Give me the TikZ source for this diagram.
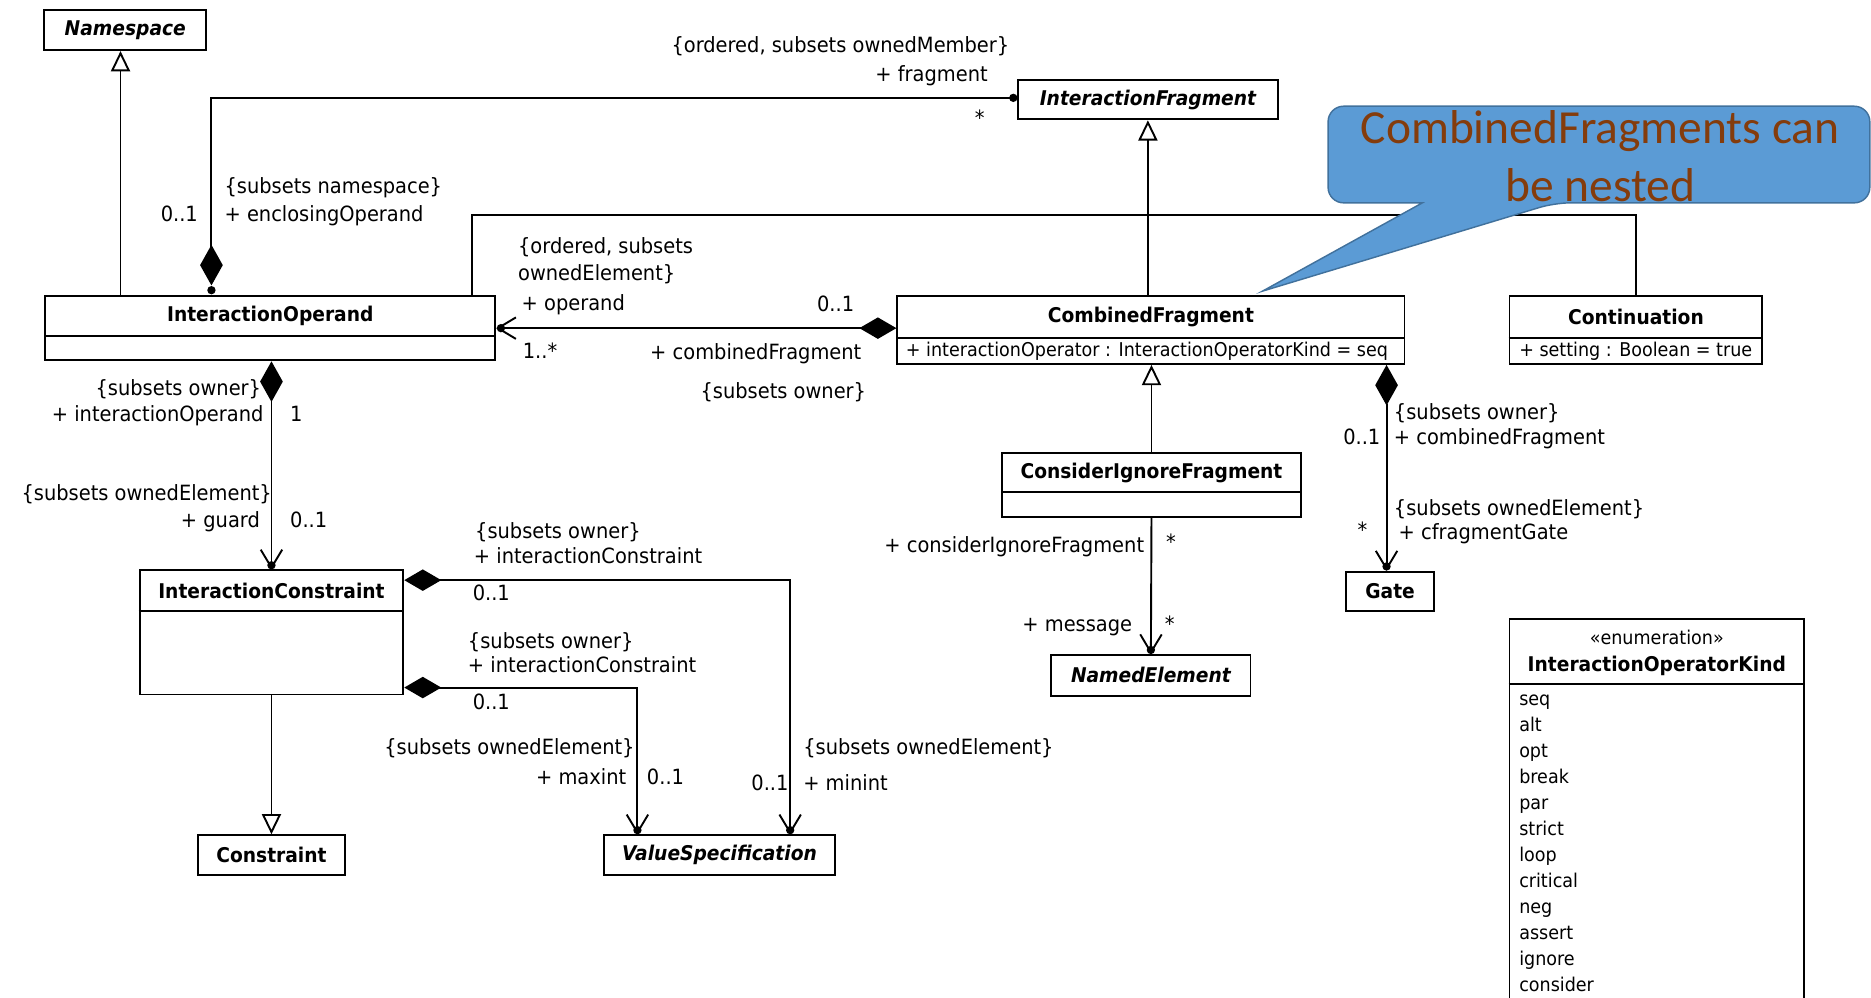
\documentclass[tikz,border=0pt]{standalone}
\usepackage{fontspec}
\setmainfont{DejaVu Sans}[FakeStretch=0.925, BoldFeatures={FakeStretch=0.92}, BoldItalicFeatures={FakeStretch=0.92}]
\newfontfamily\notefont{Carlito}
\usetikzlibrary{arrows.meta,calc}
\definecolor{noteblue}{HTML}{5B9BD5}
\definecolor{noteedge}{HTML}{41719C}
\definecolor{notetext}{HTML}{843C0C}

\begin{document}
\begin{tikzpicture}[x=1pt,y=-1pt,
  cls/.style={draw, line width=1.6pt, fill=white, rectangle, inner sep=0pt},
  cname/.style={inner sep=0pt, font=\fontsize{17}{20}\selectfont\bfseries},
  aname/.style={inner sep=0pt, font=\fontsize{17}{20}\selectfont\bfseries\itshape},
  lbl/.style={inner sep=0pt, font=\fontsize{17.6}{20}\selectfont, text height=12.5pt, text depth=4pt},
  attr/.style={inner sep=0pt, font=\fontsize{15.9}{20}\selectfont, text height=11.5pt, text depth=3.5pt},
  line/.style={line width=1.6pt},
  gen/.style={line, -{Triangle[open, length=17pt, width=16pt, fill=white]}},
  comp/.style={line, {Diamond[length=34pt, width=19pt]}-},
  compnav/.style={line, {Diamond[length=34pt, width=19pt]}-{Straight Barb[length=15pt, width=18pt]}},
  hcompnav/.style={line, {Diamond[length=31pt, width=18pt]}-{Straight Barb[length=15pt, width=18pt]}},
  nav/.style={line, -{Straight Barb[length=15pt, width=18pt]}},
  owndot/.style={fill=black}
]
\useasboundingbox (0,0) rectangle (1568,836);
\clip (0,0) rectangle (1568,836);

% ---------- classes ----------
\node[cls, minimum width=136pt, minimum height=34pt] (ns) at (105,25) {};
\node[aname] (ns-t) at (ns.center) {Namespace};

\node[cls, minimum width=218pt, minimum height=33pt] (ifr) at (962,83.5) {};
\node[aname] (ifr-t) at (ifr.center) {InteractionFragment};

\node[cls, minimum width=377pt, minimum height=54pt] (io) at (226.5,275) {};
\node[cname] (io-t) at (226.5,265) {InteractionOperand};
\draw[line] (io.west |- 0,281.5) -- (io.east |- 0,281.5);

\node[cls, minimum width=425pt, minimum height=57pt] (cf) at (964.5,276.5) {};
\node[cname] (cf-t) at (964.5,265.5) {CombinedFragment};
\draw[line] (cf.west |- 0,283) -- (cf.east |- 0,283);
\node[attr, anchor=west] (cf-a) at (759,294.5) {+ interactionOperator : InteractionOperatorKind = seq};

\node[cls, minimum width=212pt, minimum height=57pt] (cont) at (1371,276.5) {};
\node[cname] (cont-t) at (1371,265.5) {Continuation};
\draw[line] (cont.west |- 0,283) -- (cont.east |- 0,283);
\node[attr, anchor=west] (cont-a) at (1273,294.5) {+ setting : Boolean = true};

\node[cls, minimum width=221pt, minimum height=104pt] (ic) at (227.5,530) {};
\node[cname] (ic-t) at (227.5,495.5) {InteractionConstraint};
\draw[line] (ic.west |- 0,512) -- (ic.east |- 0,512);

\node[cls, minimum width=123pt, minimum height=33pt] (con) at (227.5,716.5) {};
\node[cname] (con-t) at (con.center) {Constraint};

\node[cls, minimum width=194pt, minimum height=33pt] (vs) at (603,716.5) {};
\node[aname] (vs-t) at (vs.center) {ValueSpecification};

\node[cls, minimum width=250pt, minimum height=53pt] (cif) at (965,406.5) {};
\node[cname] (cif-t) at (965,396) {ConsiderIgnoreFragment};
\draw[line] (cif.west |- 0,412.5) -- (cif.east |- 0,412.5);

\node[cls, minimum width=167pt, minimum height=34pt] (ne) at (964.5,566) {};
\node[aname] (ne-t) at (ne.center) {NamedElement};

\node[cls, minimum width=74pt, minimum height=33pt] (gate) at (1165,495.5) {};
\node[cname] (gate-t) at (gate.center) {Gate};

% enumeration
\node[cls, minimum width=247pt, minimum height=341pt] (iok) at (1388.5,689.5) {};
\node[attr] (iok-s) at (1388.5,536) {«enumeration»};
\node[cname] (iok-t) at (1388.5,558) {InteractionOperatorKind};
\draw[line] (iok.west |- 0,573.5) -- (iok.east |- 0,573.5);
\foreach \lit [count=\k from 0] in {seq,alt,opt,break,par,strict,loop,critical,neg,assert,ignore,consider}
  \node[attr, anchor=west] (lit-\k) at (1273,587+21.8*\k) {\lit};

% ---------- generalizations ----------
\coordinate (nsx) at ($(ns.south)+(-4,0)$);
\draw[gen] (nsx |- io.north) -- (nsx);
\coordinate (jn) at (962,180);
\draw[line] ($(io.north east)+(-20,0)$) |- (jn) -| (cont.north);
\draw[gen] (cf.north -| ifr.south) -- (ifr.south);
\draw[gen] (ic.south) -- (con.north);
\draw[gen] (cif.north) -- (cif.north |- cf.south);

% ---------- associations ----------
% enclosingOperand / fragment
\draw[comp, shorten <=8pt] ($(io.north west)+(140,0)$) |- ($(ifr.west)+(0,-1.5)$);
\fill[owndot] ($(io.north west)+(140,-4)$) circle (3.5pt);
\fill[owndot] ($(ifr.west)+(-3,-1.5)$) circle (3.5pt);
\node[lbl, anchor=east] (l1) at (846,40) {\{ordered, subsets ownedMember\}};
\node[lbl, anchor=east] (l2) at (828,64) {+ fragment};
\node[lbl, anchor=center] (l3) at (821,101) {*};
\node[lbl, anchor=west] (l4) at (188,158) {\{subsets namespace\}};
\node[lbl, anchor=west] (l5) at (188,181) {+ enclosingOperand};
\node[lbl, anchor=east] (l6) at (166,181) {0..1};

% operand / combinedFragment
\draw[hcompnav] (cf.west |- io.east) -- (io.east);
\fill[owndot] ($(io.east)+(4,0)$) circle (3.5pt);
\node[lbl, anchor=west] (l7) at (434,208) {\{ordered, subsets};
\node[lbl, anchor=west] (l8) at (434,231) {ownedElement\}};
\node[lbl, anchor=west] (l9) at (437,256) {+ operand};
\node[lbl, anchor=west] (l10) at (438,296) {1..*};
\node[lbl, anchor=east] (l11) at (716,257) {0..1};
\node[lbl, anchor=east] (l12) at (722,297) {+ combinedFragment};
\node[lbl, anchor=east] (l13) at (726,330) {\{subsets owner\}};

% guard
\draw[compnav] (ic.north |- io.south) -- (ic.north);
\fill[owndot] ($(ic.north)+(0,-3.5)$) circle (3.5pt);
\node[lbl, anchor=east] (l14) at (219,327) {\{subsets owner\}};
\node[lbl, anchor=east] (l15) at (221,349) {+ interactionOperand};
\node[lbl, anchor=west] (l16) at (243,349) {1};
\node[lbl, anchor=east] (l17) at (228,415) {\{subsets ownedElement\}};
\node[lbl, anchor=east] (l18) at (218,438) {+ guard};
\node[lbl, anchor=west] (l19) at (243,438) {0..1};

% minint
\draw[hcompnav] ($(ic.north east)+(0,9)$) -| ($(vs.north west)+(157,0)$);
\fill[owndot] ($(vs.north west)+(157,-3.5)$) circle (3.5pt);
\node[lbl, anchor=west] (l20) at (398,447) {\{subsets owner\}};
\node[lbl, anchor=west] (l21) at (397,468) {+ interactionConstraint};
\node[lbl, anchor=west] (l22) at (396,499) {0..1};
\node[lbl, anchor=west] (l23) at (673,628) {\{subsets ownedElement\}};
\node[lbl, anchor=east] (l24) at (661,658) {0..1};
\node[lbl, anchor=west] (l25) at (673,658) {+ minint};

% maxint
\draw[hcompnav] ($(ic.north east)+(0,99)$) -| ($(vs.north west)+(29,0)$);
\fill[owndot] ($(vs.north west)+(29,-3.5)$) circle (3.5pt);
\node[lbl, anchor=west] (l26) at (392,539) {\{subsets owner\}};
\node[lbl, anchor=west] (l27) at (392,559) {+ interactionConstraint};
\node[lbl, anchor=west] (l28) at (396,590) {0..1};
\node[lbl, anchor=east] (l29) at (532,628) {\{subsets ownedElement\}};
\node[lbl, anchor=east] (l30) at (525,653) {+ maxint};
\node[lbl, anchor=west] (l31) at (542,653) {0..1};

% message
\draw[nav] (cif.south) -- (ne.north);
\fill[owndot] ($(ne.north)+(0,-3.5)$) circle (3.5pt);
\node[lbl, anchor=east] (l32) at (959,459) {+ considerIgnoreFragment};
\node[lbl, anchor=west] (l33) at (977,456) {*};
\node[lbl, anchor=east] (l34) at (949,525) {+ message};
\node[lbl, anchor=west] (l35) at (976,525) {*};

% cfragmentGate
\coordinate (gtop) at ($(gate.north)+(-3,0)$);
\draw[compnav] (gtop |- cf.south) -- (gtop);
\fill[owndot] ($(gtop)+(0,-3.5)$) circle (3.5pt);
\node[lbl, anchor=west] (l36) at (1168,347) {\{subsets owner\}};
\node[lbl, anchor=west] (l37) at (1168,368) {+ combinedFragment};
\node[lbl, anchor=east] (l38) at (1157,368) {0..1};
\node[lbl, anchor=west] (l39) at (1168,428) {\{subsets ownedElement\}};
\node[lbl, anchor=west] (l40) at (1172,448) {+ cfragmentGate};
\node[lbl, anchor=east] (l41) at (1146,446) {*};

% ---------- callout ----------
\filldraw[fill=noteblue, draw=noteedge, line width=1.2pt, rounded corners=13pt]
  (1113,130) |- (1567,89) |- (1303,170) [sharp corners] -- (1058,244) -- (1192,170)
  [rounded corners=13pt] -| (1113,130) -- cycle;
\node[font=\notefont\fontsize{39.8}{48}\selectfont, text=notetext, align=center, inner sep=0pt] (note) at (1341,131) {CombinedFragments can\\be nested};
\end{tikzpicture}
\end{document}
